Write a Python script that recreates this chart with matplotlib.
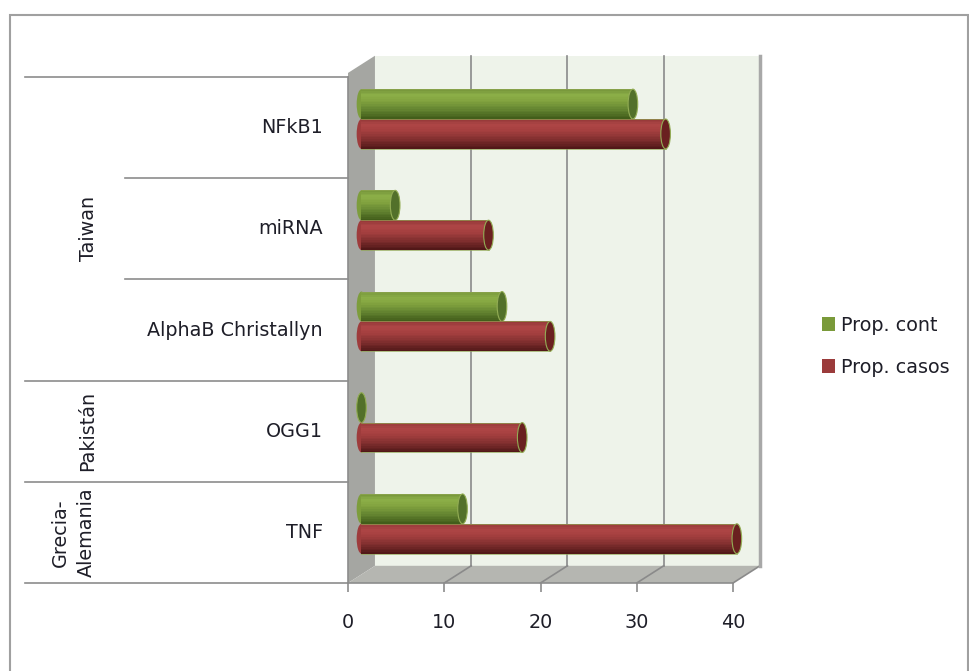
import matplotlib
matplotlib.use("Agg")
import matplotlib.pyplot as plt
from matplotlib.patches import Polygon, Ellipse, Patch, Rectangle
from matplotlib.colors import LinearSegmentedColormap

# data (bottom to top)
genes = ["TNF", "OGG1", "AlphaB Christallyn", "miRNA", "NFkB1"]
groups = ["Grecia-\nAlemania", "Pakistán", "Taiwan"]
group_pos = [0, 1, 3]
prop_cont = [10.5, 0, 14.6, 3.5, 28.2]
prop_casos = [39.0, 16.7, 19.6, 13.2, 31.6]
x_ticks = [0, 10, 20, 30, 40]

plt.rcParams['font.family'] = ['DejaVu Sans']
TXT = '#1e1e28'
FS = 13.8

fig = plt.figure(figsize=(9.7, 6.71), dpi=100)
ax = fig.add_axes([348/970, 88/671, 385/970, 506/671])
ax.set_xlim(0, 40)
ax.set_ylim(-0.5, 4.5)
for s in ax.spines.values():
    s.set_visible(False)
ax.patch.set_visible(False)
ax.set_yticks([])
ax.set_xticks(x_ticks)
ax.tick_params(axis='x', length=6.5, width=1.2, color='#8c8c8c', pad=15,
               labelsize=FS, labelcolor=TXT)

# depth of the 3d box, in data units
DX, DY = 2.8, 0.17
top = 4.54
bot = -0.5

# walls
ax.add_patch(Rectangle((DX, bot + DY), 40, top - bot, fc='#eef3ea', ec='none',
                       zorder=1, clip_on=False))
ax.add_patch(Polygon([(0, bot), (0, top), (DX, top + DY), (DX, bot + DY)],
                     closed=True, fc='#a5a6a2', ec='none', zorder=1, clip_on=False))
ax.add_patch(Polygon([(0, bot), (40, bot), (40 + DX, bot + DY), (DX, bot + DY)],
                     closed=True, fc='#b5b6b1', ec='none', zorder=1, clip_on=False))

# gridlines on back wall and floor
for t in x_ticks[1:-1]:
    ax.plot([t + DX, t + DX], [bot + DY, top + DY], color='#8a8a8a', lw=1.2,
            zorder=2, clip_on=False)
for t in x_ticks[1:]:
    ax.plot([t, t + DX], [bot, bot + DY], color='#8a8a8a', lw=1.2,
            zorder=2, clip_on=False)
ax.plot([40 + DX, 40 + DX], [bot + DY, top + DY], color='#a8a8a8', lw=2.5,
        zorder=2, clip_on=False)
ax.plot([0, 40], [bot, bot], color='#8c8c8c', lw=1.2, zorder=2, clip_on=False)
ax.plot([0, 0], [bot, 4.5], color='#8c8c8c', lw=1.2, zorder=2, clip_on=False)

# cylinder bars
cmap_g = LinearSegmentedColormap.from_list('g', [
    (0, '#3f5a18'), (0.3, '#628230'), (0.6, '#82a33f'), (0.8, '#8caf48'), (1, '#76963a')])
cmap_r = LinearSegmentedColormap.from_list('r', [
    (0, '#4e1616'), (0.3, '#7e2e2e'), (0.6, '#a43f3f'), (0.8, '#ae4646'), (1, '#943838')])
H = 0.295
N = 18
CAPW = 1.0

def cylinder(yc, v, cmap, cap, z):
    x0 = DX / 2
    yc = yc + DY / 2
    ax.add_patch(Ellipse((x0, yc), CAPW, H, fc=cmap(0.55), ec='none',
                         zorder=z, clip_on=False))
    for k in range(N):
        t = (k + 0.5) / N
        ax.barh(yc - H / 2 + (k + 0.5) * H / N, v, left=x0, height=H / N * 1.05,
                color=cmap(t), lw=0, zorder=z + 0.1, clip_on=False)
    if v > 0:
        # thin olive outline along the top and bottom of the tube
        ax.plot([x0, x0 + v], [yc + H / 2, yc + H / 2], color='#8fa552', lw=0.6,
                alpha=0.8, zorder=z + 0.15, clip_on=False)
        ax.plot([x0, x0 + v], [yc - H / 2, yc - H / 2], color='#8fa552', lw=0.6,
                alpha=0.8, zorder=z + 0.15, clip_on=False)
    ax.add_patch(Ellipse((x0 + v, yc), CAPW, H, fc=cap, ec='#93ad55', lw=0.8,
                         zorder=z + 0.2, clip_on=False))

for i in range(len(genes)):
    cylinder(i + H / 2, prop_cont[i], cmap_g, '#52702a', 3 + i)
    cylinder(i - H / 2, prop_casos[i], cmap_r, '#6a2020', 3.5 + i)

# category axis with grouped labels
ytr = ax.get_yaxis_transform()
for y, xl in [(4.5, -0.839), (3.5, -0.579), (2.5, -0.579), (1.5, -0.839),
              (0.5, -0.839), (-0.5, -0.839)]:
    ax.plot([xl, 0], [y, y], color='#8c8c8c', lw=1.2, transform=ytr, clip_on=False)

for i, g in enumerate(genes):
    ax.text(-0.065, i, g, transform=ytr, ha='right', va='center',
            fontsize=FS, color=TXT)
for g, p in zip(groups, group_pos):
    ax.text(-0.713 if '\n' in g else -0.675, p, g, transform=ytr, rotation=90,
            ha='center', va='center', fontsize=FS, color=TXT,
            linespacing=1.5, multialignment='center')

# legend
handles = [Patch(fc='#7a9a3a', ec='none', label='Prop. cont'),
           Patch(fc='#9b3b3b', ec='none', label='Prop. casos')]
fig.legend(handles=handles, loc='center left', bbox_to_anchor=(822/970, 0.484),
           frameon=False, borderaxespad=0, borderpad=0, fontsize=FS,
           handlelength=0.68, handleheight=0.68, handletextpad=0.3,
           labelspacing=1.2, labelcolor=TXT)

# outer chart border
fig.patches.append(Rectangle((10/970, -0.02), 958/970, 656/671 + 0.02,
                             transform=fig.transFigure, fill=False,
                             ec='#a0a0a0', lw=1.5))

fig.savefig('out.png', dpi=100)
